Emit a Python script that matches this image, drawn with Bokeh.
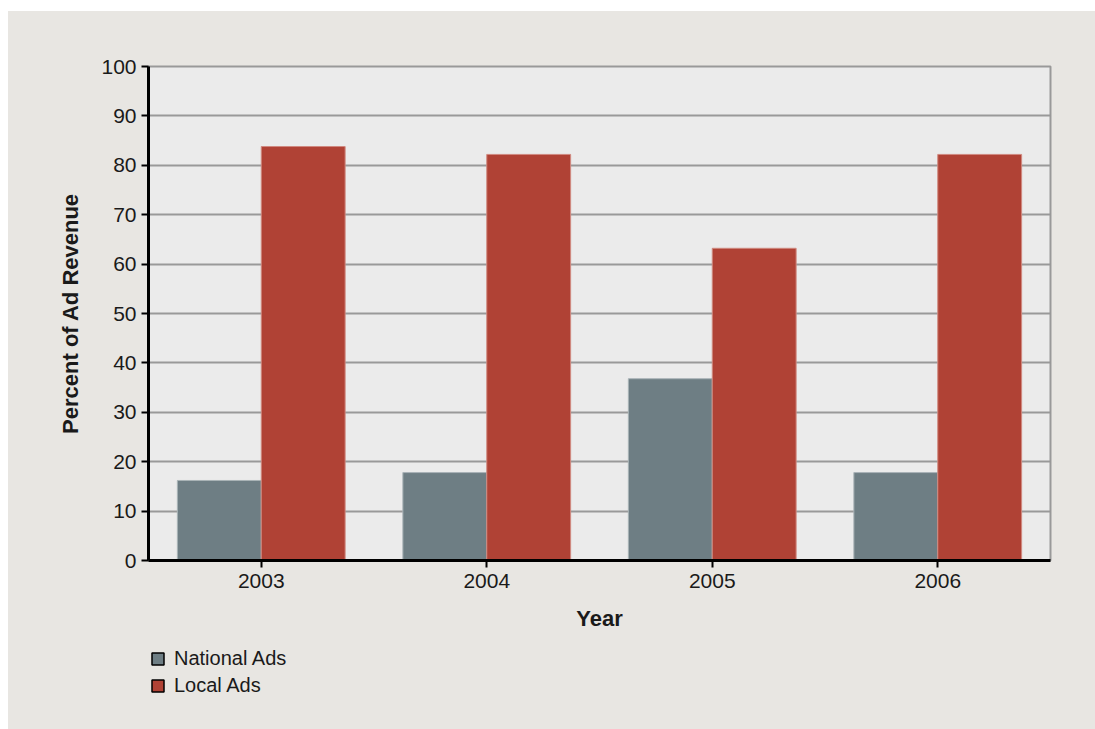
from bokeh.plotting import figure
from bokeh.layouts import column
from bokeh.models import ColumnDataSource, FixedTicker, Legend, LegendItem, Range1d
from bokeh.transform import dodge
from bokeh.embed import file_html
from bokeh.resources import INLINE

years = ["2003", "2004", "2005", "2006"]
national = [16.2, 17.8, 36.8, 17.8]
local = [83.8, 82.2, 63.2, 82.2]
y_ticks = [0, 10, 20, 30, 40, 50, 60, 70, 80, 90, 100]

NAT_COLOR = "#6e7e84"
LOC_COLOR = "#b04235"
PANEL = "#e8e6e2"
FONT = "Liberation Sans"
TXT = "#1a1a1a"

src = ColumnDataSource(data=dict(year=years, national=national, local=local))

p = figure(
    x_range=years, y_range=(0, 100),
    width=1087, height=635,
    output_backend="svg", toolbar_location=None,
    min_border_left=140, min_border_top=55, min_border_right=45, min_border_bottom=86,
    background_fill_color="#ebebeb", border_fill_color=PANEL,
    outline_line_color="#999999", outline_line_width=2,
)

p.vbar(x=dodge("year", -0.186, range=p.x_range), top="national", width=0.372,
       source=src, fill_color=NAT_COLOR, line_color="#a9b3b7", line_width=1)
p.vbar(x=dodge("year", 0.186, range=p.x_range), top="local", width=0.372,
       source=src, fill_color=LOC_COLOR, line_color="#d08a80", line_width=1)

p.xgrid.grid_line_color = None
p.ygrid.grid_line_color = "#999999"
p.ygrid.grid_line_width = 2
p.ygrid.ticker = FixedTicker(ticks=y_ticks)

p.yaxis.ticker = FixedTicker(ticks=y_ticks)
p.yaxis.axis_label = "Percent of Ad Revenue"
p.xaxis.axis_label = "Year"

for ax in (p.xaxis, p.yaxis):
    ax.axis_line_color = "black"
    ax.axis_line_width = 3
    ax.major_tick_line_color = "black"
    ax.major_tick_line_width = 2
    ax.major_tick_out = 7
    ax.major_tick_in = 0
    ax.minor_tick_line_color = None
    ax.major_label_text_font = FONT
    ax.major_label_text_font_size = "21px"
    ax.major_label_text_color = TXT
    ax.axis_label_text_font = FONT
    ax.axis_label_text_font_size = "22px"
    ax.axis_label_text_font_style = "bold"
    ax.axis_label_text_color = TXT

p.yaxis.major_label_standoff = 5
p.yaxis.axis_label_standoff = 15
p.xaxis.major_label_standoff = 6
p.xaxis.axis_label_standoff = 15

# legend strip below the chart (hidden proxy bars supply the legend swatches)
lg = figure(
    x_range=years, y_range=Range1d(-300, -200),
    width=1087, height=83,
    output_backend="svg", toolbar_location=None,
    min_border=0, x_axis_location=None, y_axis_location=None,
    background_fill_color=PANEL, border_fill_color=PANEL, outline_line_color=None,
)
lg.xgrid.grid_line_color = None
lg.ygrid.grid_line_color = None

r_nat = lg.vbar(x=dodge("year", -0.186, range=lg.x_range), top="national", width=0.372, source=src,
                fill_color=NAT_COLOR, line_color="black", line_width=1.5)
r_loc = lg.vbar(x=dodge("year", 0.186, range=lg.x_range), top="local", width=0.372, source=src,
                fill_color=LOC_COLOR, line_color="black", line_width=1.5)
r_nat.visible = False
r_loc.visible = False

legend = Legend(items=[LegendItem(label="National Ads", renderers=[r_nat], index=0),
                       LegendItem(label="Local Ads", renderers=[r_loc], index=0)],
                location=(2, 32), orientation="vertical",
                padding=0, margin=0, spacing=4,
                glyph_width=15, glyph_height=15, label_height=15, label_standoff=9,
                label_text_font=FONT, label_text_font_size="20px", label_text_color=TXT,
                inactive_fill_alpha=0,
                background_fill_alpha=0, border_line_color=None)
lg.add_layout(legend, "center")

layout = column(p, lg, spacing=0, styles={"background-color": PANEL})
layout.margin = (11, 0, 0, 8)
open("out.html", "w").write(file_html(layout, INLINE))
